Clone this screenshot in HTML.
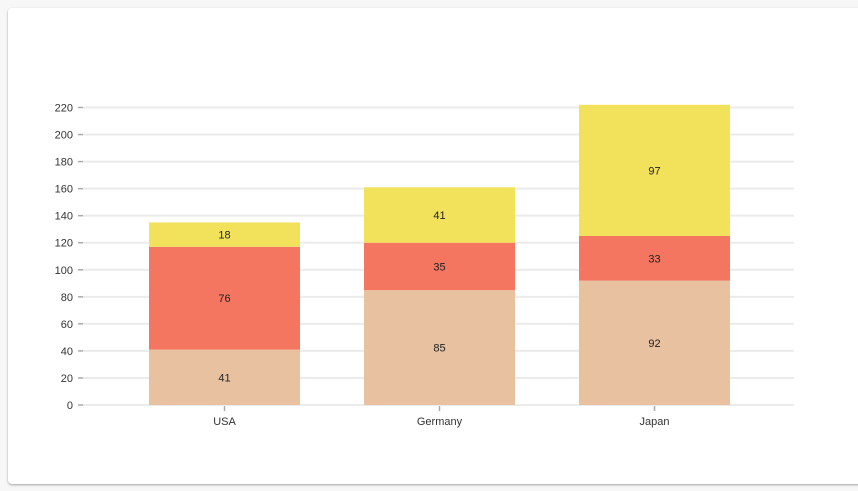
<!DOCTYPE html>
<html><head><meta charset="utf-8"><style>
body{margin:0;width:858px;height:491px;background:#f7f7f7;overflow:hidden;font-family:"Liberation Sans",Arial,sans-serif}
#card{position:absolute;left:8px;top:8px;width:860px;height:476px;background:#fff;border-radius:4px;box-shadow:0 1px 2px rgba(0,0,0,.35)}
svg{position:absolute;left:0;top:0}
</style></head><body>
<div id="card"></div>
<svg id="chart" width="858" height="491"></svg>
<script>
const categories=["USA","Germany","Japan"];
const series1=[41,85,92];
const series2=[76,35,33];
const series3=[18,41,97];
const yTicks=[0,20,40,60,80,100,120,140,160,180,200,220];
const colors=["#e8c1a0","#f47560","#f1e15b"];
const svg=document.getElementById('chart');
const NS="http://www.w3.org/2000/svg";
const y0=405,y1=107.5,ymax=220;
const y=v=>y0-(v/ymax)*(y0-y1);
const bandStart=117,band=215,barW=151;
const xc=i=>bandStart+band*i+band/2;
function mk(t,a){const e=document.createElementNS(NS,t);for(const k in a)e.setAttribute(k,a[k]);svg.appendChild(e);return e;}
yTicks.forEach(t=>{
 const g=mk('line',{x1:83,x2:794,y1:y(t),y2:y(t),stroke:'#ebebeb','stroke-width':2});
 
 
 const tk=mk('line',{x1:78,x2:83,y1:y(t),y2:y(t),stroke:'#aaa','stroke-width':1.5});
 
 
 const l=mk('text',{x:73,y:y(t)+4,'text-anchor':'end','font-size':11,fill:'#333'});
 l.textContent=t;
 
 
});
const all=[series1,series2,series3];
categories.forEach((c,i)=>{
 let base=0;
 all.forEach((s,j)=>{
  const v=s[i];
  const r=mk('rect',{x:xc(i)-barW/2,y:y(base+v),width:barW,height:y(base)-y(base+v),fill:colors[j]});
  
  
  const t=mk('text',{x:xc(i),y:(y(base)+y(base+v))/2+4,'text-anchor':'middle','font-size':11,fill:'#222'});
  t.textContent=v;
  
  
  base+=v;
 });
 const tk=mk('line',{x1:xc(i),x2:xc(i),y1:406,y2:411,stroke:'#aaa','stroke-width':1.5});
 
 
 const l=mk('text',{x:xc(i),y:425,'text-anchor':'middle','font-size':11,fill:'#333'});
 l.textContent=c;
 
 
});
</script>
</body></html>
